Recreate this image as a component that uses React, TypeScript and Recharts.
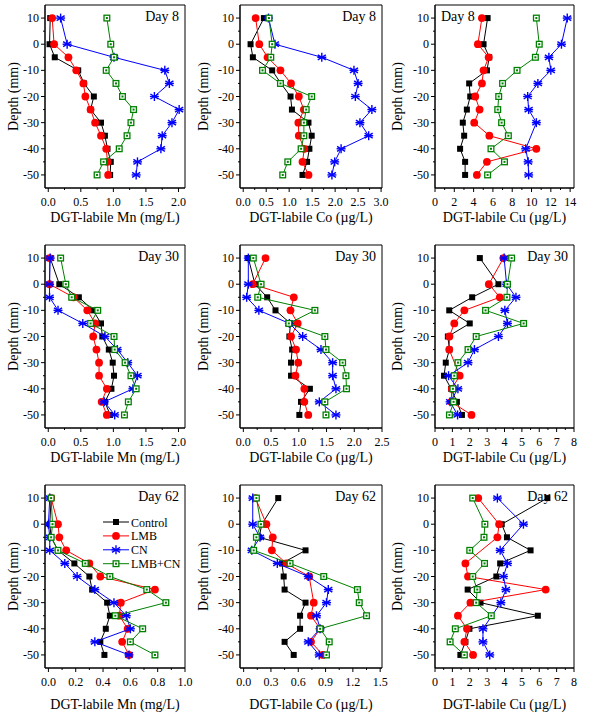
import React from 'react';
import { ScatterChart, Scatter, XAxis, YAxis, ReferenceArea, Legend, Label } from 'recharts';

// depth of each sampling layer (mm), top to bottom
const depths = [10, 0, -5, -10, -15, -20, -25, -30, -35, -40, -45, -50];
const depthTicks = [10, 5, 0, -5, -10, -15, -20, -25, -30, -35, -40, -45, -50];

// Day 8
const mn8Control = [0.03, 0.02, 0.1, 0.46, 0.55, 0.7, 0.65, 0.81, 0.87, 0.91, 0.96, 0.95];
const mn8Lmb = [0.06, 0.09, 0.31, 0.43, 0.54, 0.57, 0.65, 0.72, 0.81, 0.89, 0.91, 0.92];
const mn8Cn = [0.19, 0.29, 1.01, 1.79, 1.86, 1.63, 2.01, 1.9, 1.75, 1.73, 1.37, 1.35];
const mn8LmbCn = [0.9, 0.96, 1.01, 0.89, 1.04, 1.14, 1.31, 1.27, 1.21, 1.09, 0.85, 0.75];

const co8Control = [0.45, 0.16, 0.21, 0.63, 0.82, 1.03, 1.06, 1.42, 1.49, 1.44, 1.39, 1.29];
const co8Lmb = [0.27, 0.35, 0.53, 0.81, 1.04, 1.21, 1.32, 1.2, 1.21, 1.33, 1.29, 1.42];
const co8Cn = [0.55, 0.69, 1.71, 2.41, 2.5, 2.44, 2.8, 2.54, 2.73, 2.13, 1.99, 1.93];
const co8LmbCn = [0.56, 0.63, 0.6, 0.42, 0.81, 1.49, 1.37, 1.32, 1.32, 1.26, 0.97, 0.86];

const cu8Control = [5.45, 5.03, 5.62, 5.38, 3.54, 3.65, 3.3, 2.88, 3.02, 2.6, 3.12, 3.12];
const cu8Lmb = [4.86, 4.44, 5.56, 5.03, 4.86, 4.17, 4.62, 4.06, 5.63, 10.5, 5.38, 4.34];
const cu8Cn = [13.7, 13.1, 11.8, 12.0, 10.66, 9.6, 9.7, 10.5, null, 9.4, 9.65, 9.7];
const cu8LmbCn = [10.5, 10.8, 10.4, 8.5, 7.0, 6.6, 6.5, 6.9, 7.6, 5.8, 7.2, 5.45];

// Day 30
const mn30Control = [0.03, 0.17, 0.47, 0.69, 0.81, 0.83, 0.93, 0.99, 1.01, 0.97, 0.87, 0.95];
const mn30Lmb = [0.02, 0.02, 0.39, 0.6, 0.72, 0.69, 0.74, 0.78, 0.78, 0.9, 0.82, 0.9];
const mn30Cn = [0.03, 0.02, 0.02, 0.15, 0.53, 0.87, 1.06, 1.22, 1.37, 1.3, 0.86, 1.02];
const mn30LmbCn = [0.19, 0.27, 0.36, 0.76, 0.65, 1.01, 1.02, 1.18, 1.27, 1.35, 1.23, 1.17];

const co30Control = [0.09, 0.21, 0.43, 0.58, 0.85, 0.83, 0.88, 0.86, 0.86, 1.2, 1.04, 1.01];
const co30Lmb = [0.4, 0.17, 0.91, 0.85, 0.98, 0.86, 0.95, 0.99, 0.94, 1.1, 1.1, 1.17];
const co30Cn = [0.09, 0.09, 0.06, 0.28, 0.83, 1.07, 1.4, 1.61, 1.61, 1.67, 1.37, 1.67];
const co30LmbCn = [0.18, 0.32, 0.26, 1.29, 0.82, 1.47, 1.49, 1.79, 1.85, 1.86, 1.47, 1.49];

const cu30Control = [2.58, 3.65, 2.14, 0.82, 2.0, 0.74, 0.83, 0.62, 0.52, 0.93, 1.26, 1.55];
const cu30Lmb = [3.94, 3.1, 3.73, 1.69, 1.11, 0.83, 0.82, null, 1.42, 0.97, 0.93, 2.1];
const cu30Cn = [3.98, 4.12, 4.66, 4.02, 4.17, 3.65, 2.27, 1.9, 0.78, 1.32, 0.87, 1.3];
const cu30LmbCn = [4.41, 4.17, 4.14, 2.91, 5.1, 2.37, 1.9, 1.32, 1.11, 1.03, 1.07, 0.83];

// Day 62
const mn62Control = [0.02, 0.01, 0.02, 0.07, 0.19, 0.3, 0.32, 0.43, 0.45, 0.42, 0.38, 0.41];
const mn62Lmb = [0.02, 0.07, 0.08, 0.13, 0.3, 0.38, 0.78, 0.53, 0.52, 0.58, 0.54, 0.59];
const mn62Cn = [0.01, 0.0, 0.01, 0.01, 0.12, 0.21, 0.34, 0.48, 0.57, 0.6, 0.34, 0.59];
const mn62LmbCn = [0.02, 0.03, 0.02, 0.07, 0.27, 0.45, 0.72, 0.86, 0.49, 0.69, 0.6, 0.78];

const co62Control = [0.38, 0.2, 0.17, 0.68, 0.42, 0.44, 0.45, 0.68, 0.62, 0.62, 0.45, 0.55];
const co62Lmb = [0.13, 0.25, 0.32, 0.31, 0.47, 0.72, null, 0.77, 0.74, 0.84, 0.74, 0.87];
const co62Cn = [0.1, 0.1, 0.18, 0.09, 0.37, 0.71, 0.93, 0.91, 0.8, 0.84, 0.71, 0.83];
const co62LmbCn = [0.14, 0.19, 0.14, 0.11, 0.51, 0.88, 1.25, 1.27, 1.35, 0.84, 0.94, 0.91];

const cu62Control = [6.47, 3.84, 4.14, 5.5, 3.75, 3.53, 1.88, 2.62, 5.92, 1.98, 1.75, 1.46];
const cu62Lmb = [2.49, 3.69, 3.59, null, 1.75, 1.9, 6.37, 2.04, 1.32, 1.84, 1.69, 2.19];
const cu62Cn = [3.59, 5.09, null, 3.75, 4.17, 3.94, 4.08, 3.79, null, 2.76, 2.76, 3.15];
const cu62LmbCn = [2.17, 2.87, 2.82, 2.0, 2.85, 2.17, 2.43, 2.37, 3.24, 1.17, 0.87, 1.69];

const seriesNames = ['Control', 'LMB', 'CN', 'LMB+CN'];

const FONT = '"Liberation Serif", "Times New Roman", serif';
const BLACK = '#000000';
const RED = '#ff0000';
const BLUE = '#0000ff';
const GREEN = '#008000';

// marker drawers, one per treatment
const drawSquare = (cx: number, cy: number) => (
  <rect x={cx - 3} y={cy - 3} width={6} height={6} fill={BLACK} />
);
const drawCircle = (cx: number, cy: number) => <circle cx={cx} cy={cy} r={3.9} fill={RED} />;
const drawStar = (cx: number, cy: number) => (
  <g stroke={BLUE} strokeWidth={1.4}>
    <line x1={cx} y1={cy - 4.5} x2={cx} y2={cy + 4.5} />
    <line x1={cx - 4} y1={cy - 2.5} x2={cx + 4} y2={cy + 2.5} />
    <line x1={cx - 4} y1={cy + 2.5} x2={cx + 4} y2={cy - 2.5} />
    <line x1={cx - 4.5} y1={cy} x2={cx + 4.5} y2={cy} />
  </g>
);
const drawBoxDot = (cx: number, cy: number) => (
  <g>
    <rect x={cx - 3.5} y={cy - 3.5} width={7} height={7} fill={GREEN} />
    <rect x={cx - 2.2} y={cy - 2.2} width={4.4} height={4.4} fill="#ffffff" />
    <rect x={cx - 1} y={cy - 1} width={2} height={2} fill={GREEN} />
  </g>
);

const COLORS = [BLACK, RED, BLUE, GREEN];
const MARKERS = [drawSquare, drawCircle, drawStar, drawBoxDot];

const toPoints = (vals: (number | null)[]) =>
  depths
    .map((d, i) => ({ x: vals[i], y: d }))
    .filter((p) => p.x !== null && p.x !== undefined);

const YTick = (props: any) => {
  const { x, y, payload } = props;
  const major = payload.value % 10 === 0;
  return (
    <g>
      <line x1={x} y1={y} x2={x - (major ? 4 : 2)} y2={y} stroke="#000" />
      {major && (
        <text x={x - 6} y={y + 4} textAnchor="end" fontSize={12} fill="#000">
          {String(payload.value)}
        </text>
      )}
    </g>
  );
};

const makeXTick = (majors: number[], decimals: number) => (props: any) => {
  const { x, y, payload } = props;
  const major = majors.some((m) => Math.abs(m - payload.value) < 1e-6);
  return (
    <g>
      <line x1={x} y1={y} x2={x} y2={y + (major ? 4 : 2)} stroke="#000" />
      {major && (
        <text x={x} y={y + 18} textAnchor="middle" fontSize={12} fill="#000">
          {payload.value.toFixed(decimals)}
        </text>
      )}
    </g>
  );
};

const LegendBox = () => (
  <svg width={95} height={60} style={{ overflow: 'visible', fontFamily: FONT }}>
    {seriesNames.map((name, i) => {
      const y = 6 + i * 13.9;
      return (
        <g key={name}>
          <line x1={0} x2={26} y1={y} y2={y} stroke={COLORS[i]} strokeWidth={1} />
          {MARKERS[i](13, y)}
          <text x={28} y={y + 4.5} fontSize={12} fill="#000">
            {name}
          </text>
        </g>
      );
    })}
  </svg>
);

interface PanelProps {
  left: number;
  top: number;
  plotWidth: number;
  xDomain: [number, number];
  xMajors: number[];
  decimals: number;
  xTitle: string;
  titleGap: number;
  yLabelGap: number;
  day: string;
  dayLeft?: boolean;
  series: (number | null)[][];
  legend?: boolean;
}

const Panel: React.FC<PanelProps> = ({
  left, top, plotWidth, xDomain, xMajors, decimals, xTitle, titleGap, yLabelGap, day, dayLeft, series, legend,
}) => {
  const yAxisWidth = 45;
  const xTicks = xMajors.flatMap((m, i) =>
    i < xMajors.length - 1 ? [m, (m + xMajors[i + 1]) / 2] : [m]
  );
  return (
    <div style={{ position: 'absolute', left, top }}>
      <ScatterChart
        width={yAxisWidth + plotWidth + 12}
        height={233}
        margin={{ top: 5, right: 12, left: 0, bottom: 0 }}
      >
        <XAxis
          type="number"
          dataKey="x"
          domain={xDomain}
          allowDataOverflow
          ticks={xTicks}
          interval={0}
          height={45}
          tickSize={0}
          tickMargin={0}
          tickLine={false}
          axisLine={{ stroke: '#000' }}
          tick={makeXTick(xMajors, decimals)}
        >
          <Label
            content={(p: any) => {
              const vb = p.viewBox;
              return (
                <text x={vb.x + vb.width / 2} y={vb.y + titleGap} textAnchor="middle" fontSize={14} fill="#000">
                  {xTitle}
                </text>
              );
            }}
          />
        </XAxis>
        <YAxis
          type="number"
          dataKey="y"
          domain={[-55, 15]}
          allowDataOverflow
          ticks={depthTicks}
          interval={0}
          width={yAxisWidth}
          tickSize={0}
          tickMargin={0}
          tickLine={false}
          axisLine={{ stroke: '#000' }}
          tick={YTick}
        >
          <Label
            content={(p: any) => {
              const vb = p.viewBox;
              const cx = vb.x + vb.width - yLabelGap;
              const cy = vb.y + vb.height / 2;
              return (
                <text
                  x={cx}
                  y={cy}
                  transform={`rotate(-90 ${cx} ${cy})`}
                  textAnchor="middle"
                  dominantBaseline="central"
                  fontSize={14}
                  fill="#000"
                >
                  Depth (mm)
                </text>
              );
            }}
          />
        </YAxis>
        <ReferenceArea
          x1={xDomain[0]}
          x2={xDomain[1]}
          y1={-55}
          y2={15}
          ifOverflow="visible"
          fill="none"
          fillOpacity={0}
          stroke="#000"
          strokeWidth={1}
          label={{
            value: day,
            position: dayLeft ? 'insideTopLeft' : 'insideTopRight',
            offset: 6,
            fontSize: 14,
            fill: '#000',
          }}
        />
        {series.map((vals, i) => (
          <Scatter
            key={seriesNames[i]}
            name={seriesNames[i]}
            data={toPoints(vals)}
            fill={COLORS[i]}
            line={{ stroke: COLORS[i], strokeWidth: 1 }}
            lineJointType="linear"
            shape={(p: any) => MARKERS[i](p.cx, p.cy)}
            isAnimationActive={false}
          />
        ))}
        {legend && (
          <Legend
            layout="vertical"
            align="center"
            verticalAlign="middle"
            content={() => <LegendBox />}
            wrapperStyle={{ position: 'absolute', top: 36, left: 103, width: 95 }}
          />
        )}
      </ScatterChart>
    </div>
  );
};

const colLeft = [0, 195, 390];
const plotWidths = [140, 142, 139];
const yLabelGaps = [32, 37, 38];
const rowTop = [0, 240, 480];

const mnTitle = 'DGT-labile Mn (mg/L)';
const coTitle = 'DGT-labile Co (\u00b5g/L)';
const cuTitle = 'DGT-labile Cu (\u00b5g/L)';

export default function App() {
  return (
    <div
      style={{
        position: 'absolute',
        left: 0,
        top: 0,
        width: 592,
        height: 713,
        overflow: 'hidden',
        background: '#fff',
        fontFamily: FONT,
      }}
    >
      {/* Day 8 */}
      <Panel left={colLeft[0]} top={rowTop[0]} plotWidth={plotWidths[0]} xDomain={[-0.05, 2.1]}
        xMajors={[0, 0.5, 1, 1.5, 2]} decimals={1} xTitle={mnTitle} titleGap={34} yLabelGap={yLabelGaps[0]}
        day="Day 8" series={[mn8Control, mn8Lmb, mn8Cn, mn8LmbCn]} />
      <Panel left={colLeft[1]} top={rowTop[0]} plotWidth={plotWidths[1]} xDomain={[-0.07, 3.02]}
        xMajors={[0, 0.5, 1, 1.5, 2, 2.5, 3]} decimals={1} xTitle={coTitle} titleGap={34} yLabelGap={yLabelGaps[1]}
        day="Day 8" series={[co8Control, co8Lmb, co8Cn, co8LmbCn]} />
      <Panel left={colLeft[2]} top={rowTop[0]} plotWidth={plotWidths[2]} xDomain={[0, 14.4]}
        xMajors={[0, 2, 4, 6, 8, 10, 12, 14]} decimals={0} xTitle={cuTitle} titleGap={34} yLabelGap={yLabelGaps[2]}
        day="Day 8" dayLeft series={[cu8Control, cu8Lmb, cu8Cn, cu8LmbCn]} />

      {/* Day 30 */}
      <Panel left={colLeft[0]} top={rowTop[1]} plotWidth={plotWidths[0]} xDomain={[-0.05, 2.1]}
        xMajors={[0, 0.5, 1, 1.5, 2]} decimals={1} xTitle={mnTitle} titleGap={34} yLabelGap={yLabelGaps[0]}
        day="Day 30" series={[mn30Control, mn30Lmb, mn30Cn, mn30LmbCn]} />
      <Panel left={colLeft[1]} top={rowTop[1]} plotWidth={plotWidths[1]} xDomain={[-0.06, 2.5]}
        xMajors={[0, 0.5, 1, 1.5, 2, 2.5]} decimals={1} xTitle={coTitle} titleGap={34} yLabelGap={yLabelGaps[1]}
        day="Day 30" series={[co30Control, co30Lmb, co30Cn, co30LmbCn]} />
      <Panel left={colLeft[2]} top={rowTop[1]} plotWidth={plotWidths[2]} xDomain={[0, 8]}
        xMajors={[0, 1, 2, 3, 4, 5, 6, 7, 8]} decimals={0} xTitle={cuTitle} titleGap={34} yLabelGap={yLabelGaps[2]}
        day="Day 30" series={[cu30Control, cu30Lmb, cu30Cn, cu30LmbCn]} />

      {/* Day 62 */}
      <Panel left={colLeft[0]} top={rowTop[2]} plotWidth={plotWidths[0]} xDomain={[-0.025, 1.0]}
        xMajors={[0, 0.2, 0.4, 0.6, 0.8, 1.0]} decimals={1} xTitle={mnTitle} titleGap={41} yLabelGap={yLabelGaps[0]}
        day="Day 62" series={[mn62Control, mn62Lmb, mn62Cn, mn62LmbCn]} legend />
      <Panel left={colLeft[1]} top={rowTop[2]} plotWidth={plotWidths[1]} xDomain={[-0.04, 1.52]}
        xMajors={[0, 0.3, 0.6, 0.9, 1.2, 1.5]} decimals={1} xTitle={coTitle} titleGap={41} yLabelGap={yLabelGaps[1]}
        day="Day 62" series={[co62Control, co62Lmb, co62Cn, co62LmbCn]} />
      <Panel left={colLeft[2]} top={rowTop[2]} plotWidth={plotWidths[2]} xDomain={[0, 8]}
        xMajors={[0, 1, 2, 3, 4, 5, 6, 7, 8]} decimals={0} xTitle={cuTitle} titleGap={41} yLabelGap={yLabelGaps[2]}
        day="Day 62" series={[cu62Control, cu62Lmb, cu62Cn, cu62LmbCn]} />
    </div>
  );
}
